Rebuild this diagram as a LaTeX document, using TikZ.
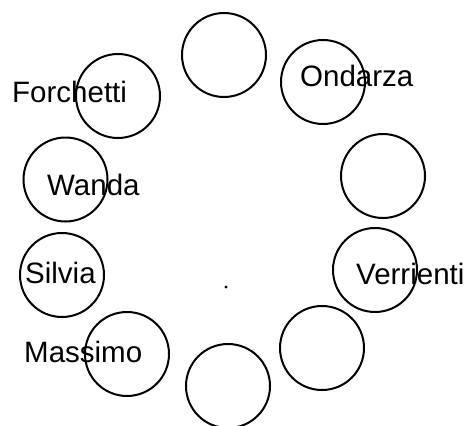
\documentclass[tikz,border=0pt]{standalone}
\usepackage{fontspec}
\setmainfont{Liberation Sans}
\begin{document}
\begin{tikzpicture}[x=1pt,y=-1pt,
  seat/.style={draw=black,circle,line width=2pt,minimum size=84pt,inner sep=0pt},
  guest/.style={anchor=base west,inner sep=0pt,font=\fontsize{29.5pt}{32pt}\selectfont}]
  \useasboundingbox (0,0) rectangle (472,426);
  \clip (0,0) rectangle (472,426);
  % ten seats round the table
  \node[seat] (s1)  at (224,55)   {};
  \node[seat] (s2)  at (323,82)   {};
  \node[seat] (s3)  at (383,176)  {};
  \node[seat] (s4)  at (375,270)  {};
  \node[seat] (s5)  at (322,348)  {};
  \node[seat] (s6)  at (228,386)  {};
  \node[seat] (s7)  at (127,354)  {};
  \node[seat] (s8)  at (62,275)   {};
  \node[seat] (s9)  at (65.5,179.5) {};
  \node[seat] (s10) at (118,96)   {};
  % names of the guests
  \node[guest] (forchetti) at (12,102)  {Forchetti};
  \node[guest] (ondarza)   at (300,86)  {Ondarza};
  \node[guest] (wanda)     at (47,195)  {Wanda};
  \node[guest] (silvia)    at (25,283)  {Silvia};
  \node[guest] (verrienti) at (356,284) {Verrienti};
  \node[guest] (massimo)   at (24,362)  {Massimo};
  % centre mark
  \fill (226,287) circle (1.6);
\end{tikzpicture}
\end{document}
